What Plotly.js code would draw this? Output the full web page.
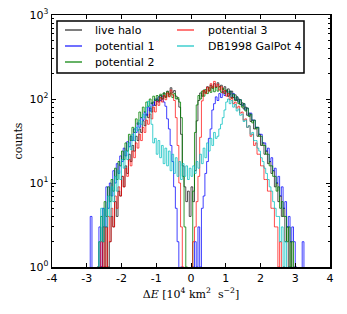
<!DOCTYPE html>
<html>
<head>
<meta charset="utf-8">
<script src="https://cdn.plot.ly/plotly-3.0.1.min.js"></script>
<style>html,body{margin:0;padding:0;background:#fff;}#chart{width:347px;height:314px;}</style>
</head>
<body>
<div id="chart"></div>
<script>
// Histogram bins: left edge of first bin and bin width (units of 10^4 km^2 s^-2)
const binStart = -3.0;
const binWidth = 0.05;

const seriesNames = ["live halo", "potential 1", "potential 2", "potential 3", "DB1998 GalPot 4"];

// counts per bin, bins from -3.00 to 3.20 (left edges), 20 bins per row
const liveHalo = [
  0,0,0,0,0,0,0,0,1,3,1,3,1,2,4,3,6,4,8,7,
  12,9,16,13,22,18,28,24,36,32,44,40,55,48,66,60,78,70,92,84,
  100,92,110,100,118,106,124,114,136,120,126,108,100,80,38,16,9,6,8,4,
  9,6,14,55,96,118,108,128,120,140,126,146,134,152,138,156,140,146,130,140,
  122,132,114,124,104,112,96,100,86,90,76,80,64,68,54,56,44,46,36,38,
  28,30,22,24,17,18,13,14,9,10,6,7,4,5,2,3,1,2,0,1,
  0,0,0,0,0
];
const potential1 = [
  0,0,4,0,0,0,1,3,1,5,3,9,5,10,7,14,10,17,13,21,
  18,26,21,31,27,36,32,44,40,52,46,60,56,70,64,80,72,90,84,100,
  94,106,96,108,92,82,58,44,28,18,9,5,2,0,1,0,0,0,0,0,
  0,1,2,1,3,1,5,7,13,18,34,44,74,88,106,96,116,104,124,110,
  126,108,124,104,116,98,106,92,98,84,88,74,78,64,68,56,56,46,46,38,
  38,30,30,24,26,18,20,14,15,10,12,7,9,5,6,3,4,2,3,2,
  1,0,0,0,2
];
const potential2 = [
  0,0,0,0,0,0,1,2,4,2,6,4,9,6,11,8,15,11,18,16,
  24,19,30,24,38,32,46,40,58,50,70,60,80,70,92,82,100,88,108,96,
  110,96,114,100,118,104,122,108,118,104,116,100,104,92,60,12,3,1,0,0,
  1,8,40,85,110,100,124,108,130,116,136,120,140,122,138,124,140,120,134,116,
  128,108,124,102,114,96,106,88,98,80,88,72,78,62,66,52,56,44,46,36,
  36,28,28,22,22,16,16,12,12,8,9,5,6,4,4,2,3,1,2,0,
  0,0,0,0,0
];
const potential3 = [
  0,0,0,0,0,0,0,1,2,1,3,1,4,2,5,3,7,5,9,7,
  12,9,15,12,19,16,24,20,30,26,38,32,46,40,56,50,66,58,80,70,
  94,84,104,92,110,98,118,106,128,112,96,60,28,10,3,1,0,0,0,0,
  1,2,3,6,12,35,95,126,116,138,124,152,136,162,140,150,128,140,118,126,
  108,116,98,104,88,92,78,82,68,70,56,58,46,48,36,38,28,30,22,22,
  16,16,11,11,8,8,5,5,3,3,1,2,0,1,0,0,0,0,0,0,
  0,0,0,0,0
];
const galPot4 = [
  0,0,0,0,0,0,0,2,5,2,5,3,7,4,9,6,12,8,14,11,
  19,15,24,19,30,25,38,32,46,42,56,50,66,60,80,94,82,50,30,34,
  22,32,20,28,17,26,16,24,14,22,13,20,12,18,11,17,12,16,11,15,
  12,16,13,18,15,22,17,26,20,30,24,34,28,40,34,36,44,50,60,74,
  92,100,88,96,80,86,72,76,64,66,54,56,46,48,38,40,32,32,26,24,
  20,18,15,13,11,9,8,6,5,4,4,2,3,1,2,0,1,0,0,0,
  0,0,0,0,0
];

const seriesValues = [liveHalo, potential1, potential2, potential3, galPot4];
const seriesColors = ["rgba(0,0,0,0.68)", "rgba(0,0,255,0.75)", "rgba(0,128,0,0.8)", "rgba(255,0,0,0.7)", "rgba(0,191,191,0.75)"];

// empty bins on a log axis: draw them below the visible range so the step drops to the axis
const emptyFloor = 0.01;

function stepTrace(vals, name, color) {
  const x = [], y = [];
  for (let i = 0; i < vals.length; i++) {
    x.push(+(binStart + i * binWidth).toFixed(4));
    y.push(vals[i] > 0 ? vals[i] : emptyFloor);
  }
  x.push(+(binStart + vals.length * binWidth).toFixed(4));
  y.push(emptyFloor);
  return {
    type: "scatter", mode: "lines", x: x, y: y, name: name,
    line: {shape: "hv", color: color, width: 1},
    showlegend: false, hoverinfo: "skip"
  };
}

const traces = seriesValues.map((v, i) => stepTrace(v, seriesNames[i], seriesColors[i]));

const xTicks = [-4, -3, -2, -1, 0, 1, 2, 3, 4];
const xTickText = ["-4", "-3", "-2", "-1", "0", "1", "2", "3", "4"];
const yTicks = [1, 10, 100, 1000];
const yTickText = ["10<sup>0</sup>", "10<sup>1</sup>", "10<sup>2</sup>", "10<sup>3</sup>"];
const yMinor = [2,3,4,5,6,7,8,9,20,30,40,50,60,70,80,90,200,300,400,500,600,700,800,900];

// ---- legend box (two columns, drawn in paper coordinates) ----
const plotL = 52, plotR = 330, plotT = 15, plotB = 267;
const px2x = p => (p - plotL) / (plotR - plotL);
const px2y = p => (plotB - p) / (plotB - plotT);
const legendCols = [{line0: 65, line1: 82, text: 93}, {line0: 177, line1: 194, text: 206}];
const legendRows = [30, 46, 62];
const legendSlot = [[0, 0], [0, 1], [0, 2], [1, 0], [1, 1]]; // [column, row] of each series

const shapes = [{
  type: "rect", xref: "paper", yref: "paper", layer: "above",
  x0: px2x(57), x1: px2x(304), y0: px2y(73), y1: px2y(21),
  line: {color: "#000", width: 1.5}, fillcolor: "#fff"
}];
const annotations = [];
seriesNames.forEach((name, i) => {
  const col = legendCols[legendSlot[i][0]];
  const rowY = legendRows[legendSlot[i][1]];
  shapes.push({
    type: "line", xref: "paper", yref: "paper", layer: "above",
    x0: px2x(col.line0), x1: px2x(col.line1), y0: px2y(rowY), y1: px2y(rowY),
    line: {color: seriesColors[i], width: 1.5}
  });
  annotations.push({
    xref: "paper", yref: "paper", x: px2x(col.text), y: px2y(rowY),
    xanchor: "left", yanchor: "middle", showarrow: false, text: name,
    font: {family: "DejaVu Sans", size: 11, color: "#000"}
  });
});

const layout = {
  width: 347, height: 314,
  margin: {l: plotL, r: 347 - plotR, t: plotT, b: 314 - plotB},
  paper_bgcolor: "#fff", plot_bgcolor: "#fff",
  font: {family: "DejaVu Sans", size: 11, color: "#000"},
  showlegend: false,
  xaxis: {
    range: [-4, 4], tickmode: "array", tickvals: xTicks, ticktext: xTickText,
    ticks: "inside", ticklen: 4, tickwidth: 1, tickcolor: "#000",
    showline: true, linecolor: "#000", linewidth: 1.5, mirror: "allticks",
    showgrid: false, zeroline: false,
    tickfont: {family: "DejaVu Sans", size: 11, color: "#000"},
    title: {text: "Δ<i>E</i> [10<sup>4</sup> km<sup>2</sup>  s<sup>−2</sup>]", font: {family: "DejaVu Serif", size: 11, color: "#000"}, standoff: 6}
  },
  yaxis: {
    type: "log", range: [0, 3], tickmode: "array", tickvals: yTicks, ticktext: yTickText,
    ticks: "inside", ticklen: 4, tickwidth: 1, tickcolor: "#000",
    minor: {tickmode: "array", tickvals: yMinor, ticks: "inside", ticklen: 2, tickcolor: "#000", showgrid: false},
    showline: true, linecolor: "#000", linewidth: 1.5, mirror: "allticks",
    showgrid: false, zeroline: false,
    tickfont: {family: "DejaVu Sans", size: 11, color: "#000"},
    title: {text: "counts", font: {family: "DejaVu Serif", size: 11, color: "#000"}, standoff: 4}
  },
  shapes: shapes,
  annotations: annotations
};

Plotly.newPlot("chart", traces, layout, {displayModeBar: false, staticPlot: true});
</script>
</body>
</html>
